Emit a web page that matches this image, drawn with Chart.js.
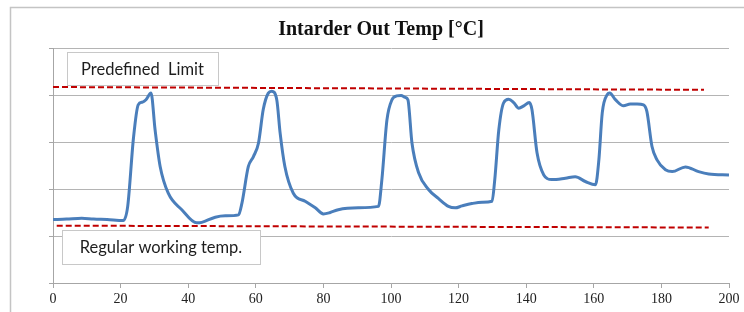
<!DOCTYPE html>
<html>
<head>
<meta charset="utf-8">
<script src="https://cdn.jsdelivr.net/npm/chart.js@4/dist/chart.umd.min.js"></script>
<style>
  html, body { margin: 0; padding: 0; background: #fff; }
  #wrap { width: 744px; height: 312px; position: relative; }
</style>
</head>
<body>
<div id="wrap"><canvas id="tempChart"></canvas></div>
<script>
// time axis (s) and intarder out temperature (relative units, one gridline = 1)
const tSec = [0, 4, 8.5, 12, 16, 20.8, 22.1, 23.8, 25.2, 26.5, 27.5, 29, 30.2, 31.7, 34.1, 38.1, 42.5, 44, 48, 51,
    54.9, 55.9, 57.8, 59.3, 60.8, 62.2, 63.7, 64.7, 66.2, 67.2, 68.6, 71.1, 74.6, 77.6, 80, 82, 84.4, 90.3, 96.3,
    97.3, 98.8, 100.3, 101.7, 103, 104.2, 105, 106.2, 108.2, 111.1, 114, 117, 119, 121, 123.9, 127, 129.9,
    130.7, 131.9, 133.3, 134.8, 136.3, 137.8, 139.3, 140.9, 141.7, 143.2, 145.2, 147.6, 151.6, 154.5, 157.5, 160.5,
    161.5, 162.5, 164, 164.7, 166.4, 168.8, 170.8, 172.8, 174.7, 175.7, 177.2, 178.7, 181.2, 183.2, 187.1, 191, 194, 200];
const outTemp = [1.35, 1.36, 1.38, 1.36, 1.35, 1.33, 1.63, 3.08, 3.79, 3.85, 3.9, 4.04, 3.26, 2.48, 1.91, 1.56, 1.28, 1.29, 1.4, 1.43,
    1.45, 1.7, 2.48, 2.69, 2.98, 3.69, 4.04, 4.08, 3.9, 3.19, 2.48, 1.91, 1.74, 1.6, 1.47, 1.5, 1.56, 1.6, 1.63,
    2.2, 3.47, 3.9, 3.98, 3.99, 3.95, 3.9, 2.98, 2.34, 1.99, 1.8, 1.63, 1.6, 1.64, 1.69, 1.72, 1.74,
    2.2, 3.26, 3.83, 3.91, 3.84, 3.72, 3.77, 3.84, 3.69, 2.77, 2.3, 2.2, 2.23, 2.26, 2.16, 2.09,
    2.62, 3.62, 4.01, 4.04, 3.9, 3.77, 3.81, 3.81, 3.79, 3.65, 2.91, 2.62, 2.41, 2.37, 2.47, 2.37, 2.32, 2.3];

// dashed reference lines (start / end)
const limitX = [0, 192.6];
const limitY = [4.17, 4.11];
const regularX = [1.1, 194];
const regularY = [1.22, 1.18];

const xTicks = [0, 20, 40, 60, 80, 100, 120, 140, 160, 180, 200];
const boxLabels = ['Predefined  Limit', 'Regular working temp.'];

function pts(xs, ys) {
    return xs.map((x, i) => ({ x: x, y: ys[i] }));
}

// outer frame + label boxes
const decor = {
    id: 'decor',
    beforeDraw(chart) {
        const c = chart.ctx;
        c.save();
        c.strokeStyle = '#c4c4c4';
        c.lineWidth = 1.5;
        c.strokeRect(10.5, 7.5, 900, 500);
        c.restore();
    },
    afterDatasetsDraw(chart) {
        const c = chart.ctx;
        const boxes = [
            { x: 67, y: 52, w: 151, h: 33, text: boxLabels[0] },
            { x: 62, y: 230, w: 198, h: 34, text: boxLabels[1] }
        ];
        c.save();
        boxes.forEach(b => {
            c.fillStyle = '#fff';
            c.fillRect(b.x, b.y, b.w, b.h);
            c.strokeStyle = '#c8c8c8';
            c.lineWidth = 1;
            c.strokeRect(b.x + 0.5, b.y + 0.5, b.w, b.h);
            c.fillStyle = '#1e1e1e';
            c.font = '16.5px Lato';
            c.textAlign = 'center';
            c.textBaseline = 'middle';
            c.fillText(b.text, b.x + b.w / 2, b.y + b.h / 2 + 1);
        });
        c.restore();
    }
};

new Chart(document.getElementById('tempChart'), {
    type: 'line',
    data: {
        datasets: [
            {
                label: 'Out Temp',
                data: pts(tSec, outTemp),
                borderColor: '#4a7ebb',
                borderWidth: 3,
                pointRadius: 0,
                cubicInterpolationMode: 'monotone',
                fill: false
            },
            {
                label: 'Predefined Limit',
                data: pts(limitX, limitY),
                borderColor: '#c00000',
                borderWidth: 2,
                borderDash: [6, 3],
                pointRadius: 0,
                fill: false
            },
            {
                label: 'Regular working temp.',
                data: pts(regularX, regularY),
                borderColor: '#c00000',
                borderWidth: 2,
                borderDash: [6, 3],
                pointRadius: 0,
                fill: false
            }
        ]
    },
    options: {
        responsive: true,
        maintainAspectRatio: false,
        animation: false,
        layout: { padding: { left: 33, right: 15, top: 0, bottom: 0 } },
        plugins: {
            legend: { display: false },
            tooltip: { enabled: false },
            title: {
                display: true,
                text: 'Intarder Out Temp [°C]',
                color: '#111',
                font: { family: 'Liberation Serif', size: 20, weight: 'bold' },
                padding: { top: 18, bottom: 6 }
            }
        },
        scales: {
            x: {
                type: 'linear',
                min: 0,
                max: 200,
                afterBuildTicks: s => { s.ticks = xTicks.map(v => ({ value: v })); },
                afterFit: s => { s.height = 29; },
                grid: { color: 'transparent', tickColor: '#a6a6a6', drawTicks: true, tickLength: 5 },
                border: { display: true, color: '#a6a6a6', width: 1 },
                ticks: {
                    autoSkip: false,
                    maxRotation: 0,
                    padding: 3,
                    color: '#222',
                    font: { family: 'Liberation Serif', size: 14 }
                }
            },
            y: {
                min: 0,
                max: 5,
                afterFit: s => { s.width = 20; },
                grid: { color: '#b4b4b4', lineWidth: 1, tickColor: '#a6a6a6', tickLength: 4 },
                border: { display: true, color: '#a6a6a6', width: 1 },
                ticks: { stepSize: 1, display: false }
            }
        }
    },
    plugins: [decor]
});
</script>
</body>
</html>
